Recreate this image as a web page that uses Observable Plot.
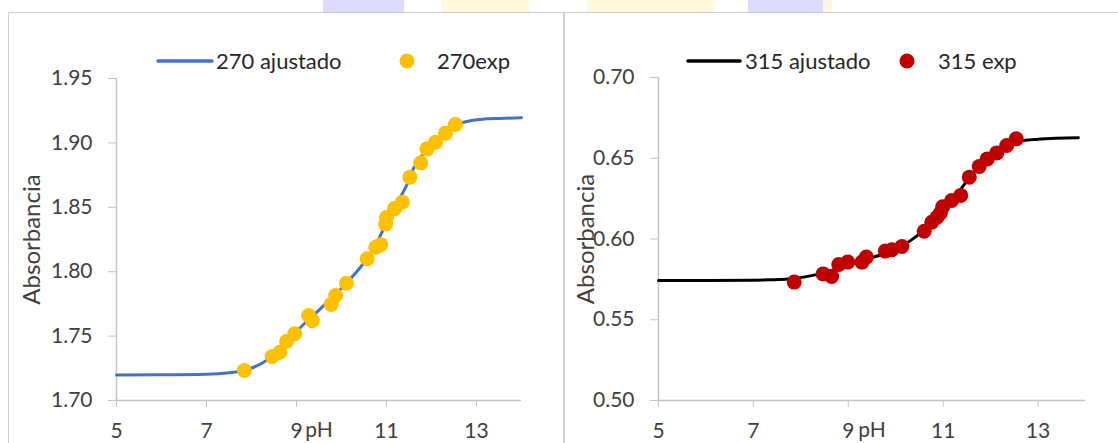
<!DOCTYPE html>
<html>
<head>
<meta charset="utf-8">
<script src="https://cdn.jsdelivr.net/npm/d3@7"></script>
<script src="https://cdn.jsdelivr.net/npm/@observablehq/plot@0.6"></script>
<style>
  html, body { margin: 0; padding: 0; background: #fff; }
  #wrap { position: relative; width: 1118px; height: 443px; overflow: hidden; font-family: Lato, "Open Sans", sans-serif; }
  .wm { position: absolute; top: 0; height: 14px; }
  .panel { position: absolute; top: 12px; height: 460px; background: #fff; box-sizing: border-box; border: 1px solid #d0d0d0; }
  .chart { position: absolute; top: 0; }
  .legtext { position: absolute; top: 48px; height: 26px; line-height: 26px; font-size: 22px; color: #262626; white-space: nowrap; }
  .legsw { position: absolute; top: 0; left: 0; }
</style>
</head>
<body>
<div id="wrap">
  <div class="wm" style="left:323px;width:81px;background:#dcdcfa"></div>
  <div class="wm" style="left:441px;width:88px;background:#fff8dd"></div>
  <div class="wm" style="left:587px;width:127px;background:#fff8dd"></div>
  <div class="wm" style="left:748px;width:75px;background:#dcdcfa"></div>
  <div class="wm" style="left:823px;width:9px;background:#fff8dd"></div>
  <div class="panel" style="left:8px;width:557px;border-right-width:2px"></div>
  <div class="panel" style="left:563px;width:600px;border-left-width:2px"></div>
  <div id="left" class="chart" style="left:0px"></div>
  <div id="right" class="chart" style="left:562px"></div>
  <svg class="legsw" width="1118" height="100">
    <line x1="158" y1="61" x2="212" y2="61" stroke="#4472C4" stroke-width="3.5" stroke-linecap="round"></line>
    <circle cx="407" cy="61" r="7.5" fill="#FFC000"></circle>
    <line x1="688" y1="61" x2="740" y2="61" stroke="#000000" stroke-width="3.5" stroke-linecap="round"></line>
    <circle cx="907" cy="61" r="7.5" fill="#C00000"></circle>
  </svg>
  <div class="legtext" style="left:216px">270 ajustado</div>
  <div class="legtext" style="left:437px">270exp</div>
  <div class="legtext" style="left:745px">315 ajustado</div>
  <div class="legtext" style="left:938px">315 exp</div>
</div>
<script>
// ---- data ----
const xTicks = [5, 7, 9, 11, 13];
const yTicks270 = [1.70, 1.75, 1.80, 1.85, 1.90, 1.95];
const yTicks315 = [0.50, 0.55, 0.60, 0.65, 0.70];
const xTitle = "pH";
const yTitle = "Absorbancia";

// 270 nm experimental
const ph270 = [7.84, 8.46, 8.63, 8.78, 8.96, 9.27, 9.35, 9.77, 9.87, 10.11, 10.57, 10.76, 10.87, 10.98, 11.00, 11.18, 11.35, 11.52, 11.76, 11.90, 12.09, 12.31, 12.53];
const abs270 = [1.7233, 1.7342, 1.7375, 1.7460, 1.7518, 1.7660, 1.7620, 1.7745, 1.7815, 1.7910, 1.8100, 1.8190, 1.8210, 1.8370, 1.8420, 1.8490, 1.8540, 1.8734, 1.8845, 1.8954, 1.9006, 1.9075, 1.9143];
// 270 nm fitted curve
const fitPh270 = [5.0, 6.0, 7.0, 7.5, 7.85, 8.27, 8.72, 9.13, 9.53, 10.13, 10.42, 10.72, 10.90, 11.10, 11.31, 11.46, 11.60, 11.82, 12.12, 12.42, 12.71, 13.16, 13.50, 14.0];
const fitAbs270 = [1.7198, 1.7199, 1.7203, 1.7215, 1.7235, 1.7297, 1.7427, 1.7582, 1.7712, 1.7918, 1.8035, 1.8178, 1.8307, 1.8450, 1.8580, 1.8680, 1.8800, 1.8915, 1.9024, 1.9110, 1.9160, 1.9185, 1.9190, 1.9195];

// 315 nm experimental
const ph315 = [7.86, 8.47, 8.65, 8.80, 8.99, 9.29, 9.38, 9.78, 9.92, 10.13, 10.60, 10.76, 10.87, 10.94, 10.99, 11.18, 11.37, 11.55, 11.76, 11.93, 12.13, 12.34, 12.54];
const abs315 = [0.5733, 0.5784, 0.5768, 0.5842, 0.5857, 0.5857, 0.5888, 0.5925, 0.5933, 0.5954, 0.6048, 0.6104, 0.6135, 0.6160, 0.6200, 0.6238, 0.6270, 0.6383, 0.6449, 0.6496, 0.6533, 0.6579, 0.6620];
// 315 nm fitted curve
const fitPh315 = [5.0, 6.0, 7.0, 7.36, 7.86, 8.47, 9.0, 9.5, 10.0, 10.31, 10.6, 10.9, 11.2, 11.45, 11.7, 12.0, 12.3, 12.6, 13.0, 13.4, 13.85];
const fitAbs315 = [0.5743, 0.5743, 0.5745, 0.5747, 0.5755, 0.5790, 0.5840, 0.5885, 0.5935, 0.5990, 0.6055, 0.6135, 0.6240, 0.6340, 0.6430, 0.6510, 0.6570, 0.6605, 0.6618, 0.6624, 0.6627];

const zip = (xs, ys) => xs.map((x, i) => ({x, y: ys[i]}));

function panel({width, marginLeft, marginRight, marginTop, yDomain, yTicks, fitX, fitY, expX, expY, lineColor, dotColor, yTitleDx}) {
  const axisColor = "#c4c4c4";
  const textColor = "#404040";
  return Plot.plot({
    width, height: 443,
    marginLeft, marginRight, marginTop, marginBottom: 43,
    style: {background: "none", fontFamily: "Lato, 'Open Sans', sans-serif", fontSize: "21px", color: textColor, overflow: "visible"},
    x: {domain: [5, 14]},
    y: {domain: yDomain},
    marks: [
      Plot.axisY({ticks: yTicks, tickFormat: d3.format(".2f"), tickSize: 8, tickPadding: 16, stroke: axisColor, fill: textColor, fontSize: 21, label: null}),
      Plot.axisX({ticks: xTicks, tickSize: 7, tickPadding: 16, stroke: axisColor, fill: textColor, fontSize: 21, label: null}),
      Plot.ruleX([5], {stroke: axisColor, strokeWidth: 1.5}),
      Plot.ruleY([yDomain[0]], {stroke: axisColor, strokeWidth: 1.5}),
      Plot.text([xTitle], {frameAnchor: "bottom", dy: 30, textAnchor: "middle", lineAnchor: "middle", fontSize: 21, fill: textColor}),
      Plot.text([yTitle], {frameAnchor: "left", dx: yTitleDx, rotate: -90, textAnchor: "middle", lineAnchor: "middle", fontSize: 24, fill: textColor}),
      Plot.line(zip(fitX, fitY), {x: "x", y: "y", stroke: lineColor, strokeWidth: 3, curve: "monotone-x"}),
      Plot.dot(zip(expX, expY), {x: "x", y: "y", r: 7.5, fill: dotColor, stroke: "none"})
    ]
  });
}

document.getElementById("left").append(panel({
  width: 562, marginLeft: 116, marginRight: 41, marginTop: 78,
  yDomain: [1.70, 1.95], yTicks: yTicks270,
  fitX: fitPh270, fitY: fitAbs270, expX: ph270, expY: abs270,
  lineColor: "#4472C4", dotColor: "#FFC000", yTitleDx: -84
}));
document.getElementById("right").append(panel({
  width: 556, marginLeft: 96, marginRight: 33, marginTop: 77,
  yDomain: [0.50, 0.70], yTicks: yTicks315,
  fitX: fitPh315, fitY: fitAbs315, expX: ph315, expY: abs315,
  lineColor: "#000000", dotColor: "#C00000", yTitleDx: -72
}));
</script>
</body>
</html>
